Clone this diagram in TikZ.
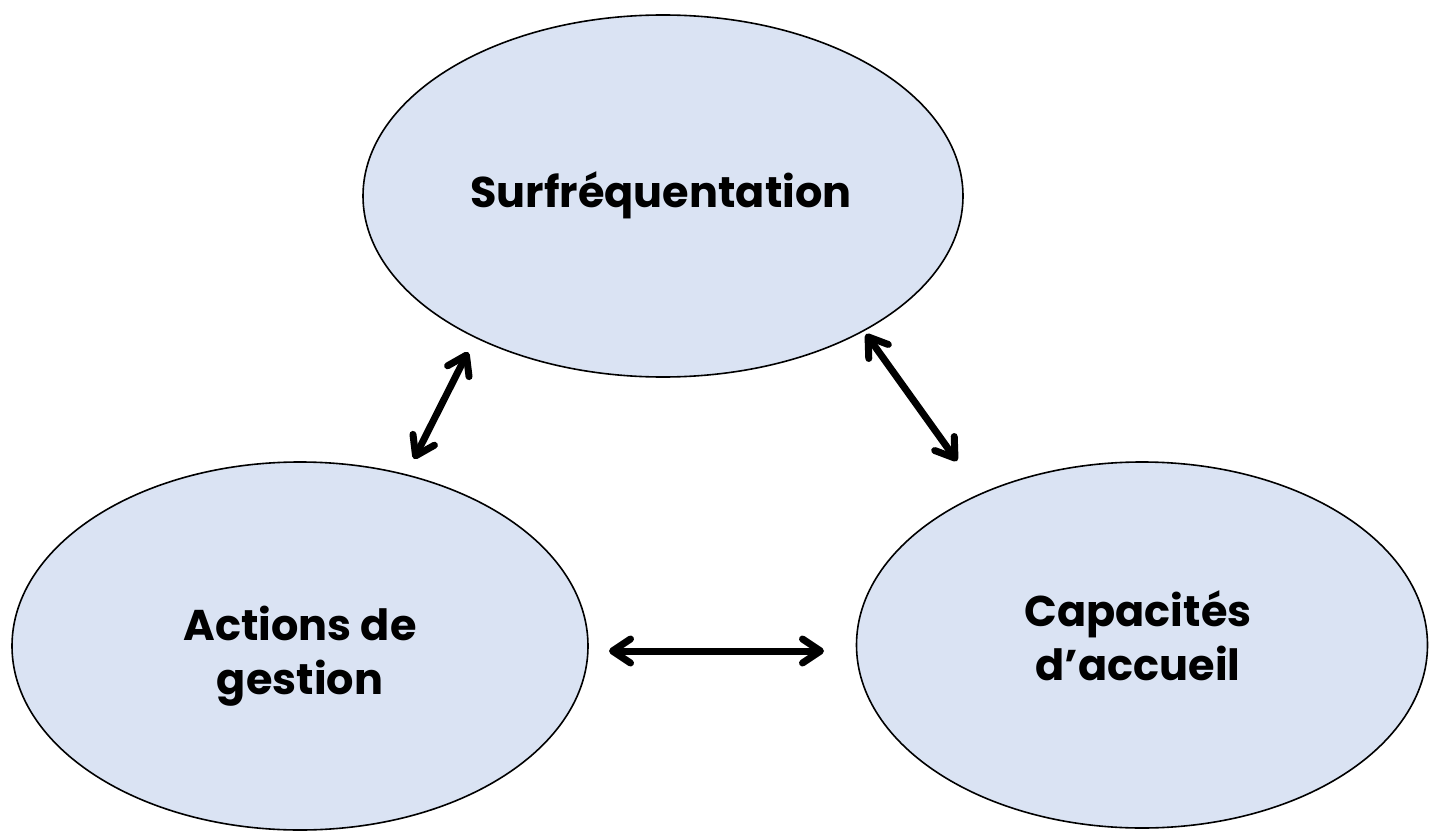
\documentclass[tikz,border=0pt]{standalone}
\usepackage{fontspec}
\setmainfont{Poppins}
\usetikzlibrary{shapes.geometric,arrows.meta}
\definecolor{ellfill}{HTML}{DAE3F3}
\begin{document}
\begin{tikzpicture}[x=1pt,y=-1pt,
  bubble/.style={ellipse,draw=black,line width=1.6pt,fill=ellfill,inner sep=0pt},
  lbl/.style={font=\fontsize{43}{54}\selectfont\bfseries,align=center,text=black},
  dbl/.style={line width=7pt,line cap=round,{Straight Barb[length=18pt,width=24pt,round]}-{Straight Barb[length=18pt,width=24pt,round]}}]
\useasboundingbox (0,0) rectangle (1438,832);
\node[bubble,minimum width=600pt,minimum height=362pt] (top) at (663,196) {};
\node[bubble,minimum width=576pt,minimum height=368pt] (left) at (300,646) {};
\node[bubble,minimum width=571pt,minimum height=366pt] (right) at (1142,645) {};
\node[lbl] (ttop) at (661,195) {Surfréquentation};
\node[lbl] (tleft) at (300,656) {Actions de\\gestion};
\node[lbl] (tright) at (1138,636) {Capacités\\d’accueil};
\coordinate (a1) at (414,459); \coordinate (b1) at (468,352);
\coordinate (a2) at (866,334); \coordinate (b2) at (957,461);
\coordinate (a3) at (609,651); \coordinate (b3) at (824,651);
\draw[dbl] (a1) -- (b1);
\draw[dbl] (a2) -- (b2);
\draw[dbl] (a3) -- (b3);
\end{tikzpicture}
\end{document}
